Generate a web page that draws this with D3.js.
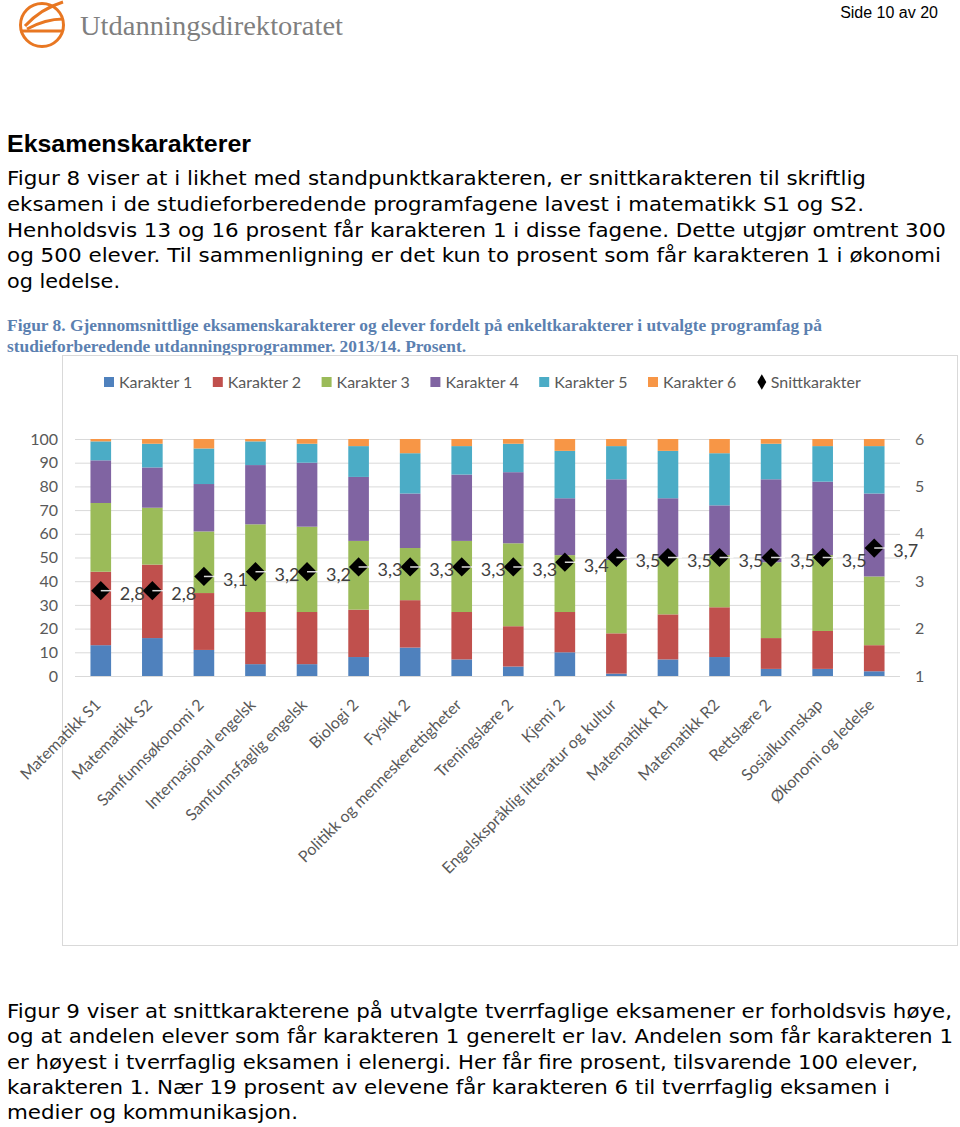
<!DOCTYPE html>
<html><head><meta charset="utf-8">
<script src="https://cdn.jsdelivr.net/npm/d3@7"></script>
<style>body{margin:0;background:#fff}svg{display:block}</style>
</head><body>
<svg id="c" width="960" height="1127"></svg>
<script>
// ---------- data ----------
const categories = ["Matematikk S1","Matematikk S2","Samfunnsøkonomi 2","Internasjonal engelsk","Samfunnsfaglig engelsk","Biologi 2","Fysikk 2","Politikk og menneskerettigheter","Treningslære 2","Kjemi 2","Engelskspråklig litteratur og kultur","Matematikk R1","Matematikk R2","Rettslære 2","Sosialkunnskap","Økonomi og ledelse"];
const karakter1 = [13,16,11,5,5,8,12,7,4,10,1,7,8,3,3,2];
const karakter2 = [31,31,24,22,22,20,20,20,17,17,17,19,21,13,16,11];
const karakter3 = [29,24,26,37,36,29,22,30,35,24,31,24,22,32,32,29];
const karakter4 = [18,17,20,25,27,27,23,28,30,24,34,25,21,35,31,35];
const karakter5 = [8,10,15,10,8,13,17,12,12,20,14,20,22,15,15,20];
const karakter6 = [1,2,4,1,2,3,6,3,2,5,3,5,6,2,3,3];
const snittkarakter = [2.8,2.8,3.1,3.2,3.2,3.3,3.3,3.3,3.3,3.4,3.5,3.5,3.5,3.5,3.5,3.7];
const seriesNames = ["Karakter 1","Karakter 2","Karakter 3","Karakter 4","Karakter 5","Karakter 6"];
const seriesColors = ["#4F81BD","#C0504D","#9BBB59","#8064A2","#4BACC6","#F79646"];
const leftTicks = [0,10,20,30,40,50,60,70,80,90,100];
const rightTicks = [1,2,3,4,5,6];

const svg = d3.select("#c");
const chartFont = "Lato, 'Open Sans', sans-serif";
const bodyFont = "'DejaVu Sans', Verdana, sans-serif";

// ---------- header ----------
const logo = svg.append("g").attr("fill","none").attr("stroke","#E87722").attr("stroke-width",3);
logo.append("circle").attr("cx",42).attr("cy",25).attr("r",21.5);
logo.append("path").attr("d","M25,26 C36,14 50,6 63,2");
logo.append("path").attr("d","M27,29 C40,22 52,19 63,19");
logo.append("path").attr("d","M20,31 L63,31");
svg.append("text").attr("x",80).attr("y",35).attr("font-family","'Liberation Serif', serif")
  .attr("font-size",28).attr("fill","#7f7f7f").attr("textLength",263).attr("lengthAdjust","spacingAndGlyphs")
  .text("Utdanningsdirektoratet");
svg.append("text").attr("x",938).attr("y",18).attr("text-anchor","end").attr("font-family","'Liberation Sans', Arial, sans-serif")
  .attr("font-size",16).attr("fill","#000").text("Side 10 av 20");

svg.append("text").attr("x",7).attr("y",152).attr("font-family","'Liberation Sans', Arial, sans-serif")
  .attr("font-weight","bold").attr("font-size",24).attr("fill","#000").attr("textLength",244)
  .attr("lengthAdjust","spacingAndGlyphs").text("Eksamenskarakterer");

function para(lines, y0, step, font, size, color, weight){
  lines.forEach((l,i)=>{
    svg.append("text").attr("x",7).attr("y",y0+i*step).attr("font-family",font).attr("font-size",size)
      .attr("fill",color).attr("font-weight",weight||"normal")
      .attr("textLength",l[1]-7).attr("lengthAdjust","spacingAndGlyphs").text(l[0]);
  });
}
para([
 ["Figur 8 viser at i likhet med standpunktkarakteren, er snittkarakteren til skriftlig",866],
 ["eksamen i de studieforberedende programfagene lavest i matematikk S1 og S2.",864],
 ["Henholdsvis 13 og 16 prosent får karakteren 1 i disse fagene. Dette utgjør omtrent 300",946],
 ["og 500 elever. Til sammenligning er det kun to prosent som får karakteren 1 i økonomi",941],
 ["og ledelse.",120]
],185,25.8,bodyFont,19.5,"#000");
para([
 ["Figur 8. Gjennomsnittlige eksamenskarakterer og elever fordelt på enkeltkarakterer i utvalgte programfag på",822],
 ["studieforberedende utdanningsprogrammer. 2013/14. Prosent.",466]
],331,21,"'Liberation Serif', serif",16,"#5B80B0","bold");
para([
 ["Figur 9 viser at snittkarakterene på utvalgte tverrfaglige eksamener er forholdsvis høye,",952],
 ["og at andelen elever som får karakteren 1 generelt er lav. Andelen som får karakteren 1",953],
 ["er høyest i tverrfaglig eksamen i elenergi. Her får fire prosent, tilsvarende 100 elever,",918],
 ["karakteren 1. Nær 19 prosent av elevene får karakteren 6 til tverrfaglig eksamen i",890],
 ["medier og kommunikasjon.",298]
],1018,25.3,bodyFont,19.5,"#000");

// ---------- chart frame ----------
svg.append("rect").attr("x",62.5).attr("y",355.5).attr("width",895).attr("height",590).attr("fill","none").attr("stroke","#D9D9D9");

// ---------- scales ----------
const x = d3.scaleBand().domain(categories).range([75,900]).paddingInner(0.6).paddingOuter(0.3);
const y = d3.scaleLinear().domain([0,100]).range([676,439]);
const y2 = d3.scaleLinear().domain([1,6]).range([676,439]);

// gridlines
svg.append("g").selectAll("line").data(leftTicks).join("line")
  .attr("x1",75).attr("x2",900).attr("y1",d=>y(d)+0.5).attr("y2",d=>y(d)+0.5)
  .attr("stroke","#D9D9D9").attr("stroke-width",1);

// left axis
const la = svg.append("g").attr("transform","translate(58,0)")
  .call(d3.axisLeft(y).tickValues(leftTicks).tickSize(0).tickPadding(0));
la.select(".domain").remove();
la.selectAll("text").attr("font-family",chartFont).attr("font-size",16).attr("fill","#595959");
// right axis
const ra = svg.append("g").attr("transform","translate(915,0)")
  .call(d3.axisRight(y2).tickValues(rightTicks).tickFormat(d3.format("d")).tickSize(0).tickPadding(0));
ra.select(".domain").remove();
ra.selectAll("text").attr("font-family",chartFont).attr("font-size",16).attr("fill","#595959");

// stacked bars
const rows = categories.map((c,i)=>({cat:c,k0:karakter1[i],k1:karakter2[i],k2:karakter3[i],k3:karakter4[i],k4:karakter5[i],k5:karakter6[i]}));
const stack = d3.stack().keys(["k0","k1","k2","k3","k4","k5"])(rows);
svg.append("g").selectAll("g").data(stack).join("g").attr("fill",(d,i)=>seriesColors[i])
  .selectAll("rect").data(d=>d).join("rect")
  .attr("x",d=>x(d.data.cat)).attr("width",x.bandwidth())
  .attr("y",d=>y(d[1])).attr("height",d=>y(d[0])-y(d[1]));

// category labels
const xa = svg.append("g");
xa.selectAll("text").data(categories).join("text")
  .attr("transform",d=>`translate(${x(d)+x.bandwidth()/2-3},702) rotate(-45)`)
  .attr("text-anchor","end").attr("dy","0.35em")
  .attr("font-family",chartFont).attr("font-size",16).attr("fill","#595959").text(d=>d);

// snitt diamonds + labels
const fmt = d3.formatLocale({decimal:",",thousands:" ",grouping:[3],currency:["","kr"]}).format(".1f");
const sym = d3.symbol(d3.symbolSquare, 185);
const cx = i=>x(categories[i])+x.bandwidth()/2;
const dg = svg.append("g");
dg.selectAll("path").data(snittkarakter).join("path")
  .attr("d",sym).attr("fill","#000")
  .attr("transform",(d,i)=>`translate(${cx(i)},${y2(d)}) rotate(45)`);
dg.selectAll("line").data(snittkarakter).join("line")
  .attr("x1",(d,i)=>cx(i)).attr("x2",(d,i)=>cx(i)+14)
  .attr("y1",d=>y2(d)).attr("y2",d=>y2(d)).attr("stroke","#fff").attr("stroke-width",1.5).attr("opacity",0.85);
dg.selectAll("text").data(snittkarakter).join("text")
  .attr("x",(d,i)=>cx(i)+19).attr("y",d=>y2(d)+3).attr("dy","0.35em")
  .attr("font-family",chartFont).attr("font-size",18).attr("fill","#404040").text(d=>fmt(d));

// legend
const lg = svg.append("g");
seriesNames.forEach((n,i)=>{
  const lx = 104 + i*108.8;
  lg.append("rect").attr("x",lx).attr("y",377).attr("width",10).attr("height",10).attr("fill",seriesColors[i]);
  lg.append("text").attr("x",lx+15).attr("y",382).attr("dy","0.35em").attr("font-family",chartFont)
    .attr("font-size",16).attr("fill","#595959").text(n);
});
const dx = 104 + 6*108.8;
lg.append("path").attr("d",d3.symbol(d3.symbolDiamond,70)).attr("fill","#000").attr("transform",`translate(${dx+5},382)`);
lg.append("text").attr("x",dx+14).attr("y",382).attr("dy","0.35em").attr("font-family",chartFont)
  .attr("font-size",16).attr("fill","#595959").text("Snittkarakter");
</script>
</body></html>
